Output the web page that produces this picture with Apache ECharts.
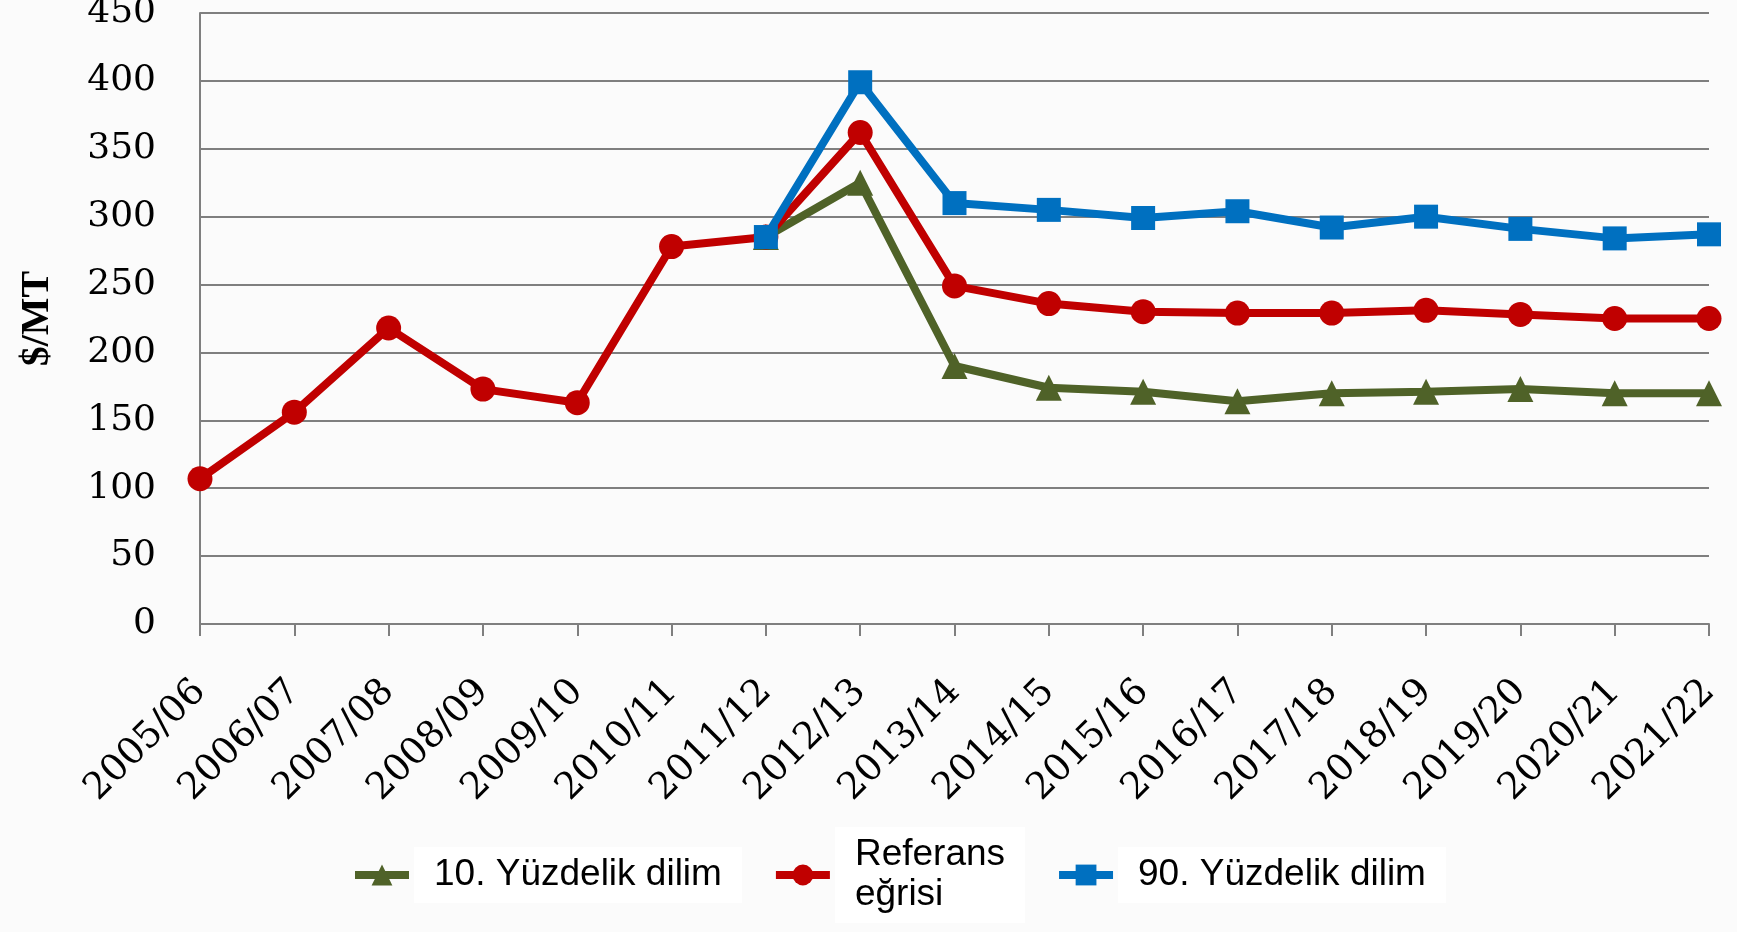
<!DOCTYPE html>
<html>
<head>
<meta charset="utf-8">
<script src="https://cdn.jsdelivr.net/npm/echarts@6/dist/echarts.min.js"></script>
<style>
  html, body { margin: 0; padding: 0; background: #fbfbfb; }
  #chart { width: 1737px; height: 932px; }
</style>
</head>
<body>
<div id="chart"></div>
<script>
// marketing years
const _YEARS = ['2005/06', '2006/07', '2007/08', '2008/09', '2009/10', '2010/11', '2011/12', '2012/13',
  '2013/14', '2014/15', '2015/16', '2016/17', '2017/18', '2018/19', '2019/20', '2020/21', '2021/22'];

// $/MT
const _P10 = [null, null, null, null, null, null, 285, 325, 190, 174, 171, 164, 170, 171, 173, 170, 170];
const _REF = [107, 156, 218, 173, 163, 278, 285, 362, 249, 236, 230, 229, 229, 231, 228, 225, 225];
const _P90 = [null, null, null, null, null, null, 285, 399, 310, 305, 299, 304, 292, 300, 291, 284, 287];

var myChart = echarts.init(document.getElementById('chart'));

const serif = '"DejaVu Serif", "Liberation Serif", serif';

myChart.setOption({
  backgroundColor: '#fbfbfb',
  animation: false,
  grid: {
    left: 200,
    top: 13,
    right: 28,
    bottom: 308,
    outerBoundsMode: 'none'
  },
  legend: {
    bottom: 4,
    left: 346,
    itemGap: 30,
    itemWidth: 54,
    itemHeight: 26,
    lineStyle: { width: 8 },
    textStyle: {
      fontFamily: '"Liberation Sans", Arial, sans-serif',
      fontSize: 37,
      color: '#000',
      backgroundColor: '#fff',
      padding: [8, 20, 8, 20],
      lineHeight: 40
    },
    formatter: function (name) {
      return name === 'Referans eğrisi' ? 'Referans\neğrisi' : name;
    },
    data: ['10. Yüzdelik dilim', 'Referans eğrisi', '90. Yüzdelik dilim']
  },
  xAxis: {
    type: 'category',
    boundaryGap: false,
    data: _YEARS,
    axisLine: { lineStyle: { color: '#7f7f7f', width: 2 } },
    axisTick: { show: true, length: 12, lineStyle: { color: '#7f7f7f', width: 2 } },
    axisLabel: {
      rotate: 45,
      interval: 0,
      margin: 62,
      fontFamily: serif,
      fontSize: 37,
      color: '#000'
    }
  },
  yAxis: {
    type: 'value',
    min: 0,
    max: 450,
    interval: 50,
    name: '$/MT',
    nameLocation: 'middle',
    nameGap: 142,
    nameTextStyle: {
      fontFamily: '"Liberation Serif", serif',
      fontSize: 40,
      fontWeight: 'bold',
      color: '#000'
    },
    axisLine: { show: true, lineStyle: { color: '#7f7f7f', width: 2 } },
    axisTick: { show: false },
    splitLine: { lineStyle: { color: '#7f7f7f', width: 2 } },
    axisLabel: {
      margin: 44,
      fontFamily: serif,
      fontSize: 36,
      color: '#000'
    }
  },
  series: [
    {
      name: '10. Yüzdelik dilim',
      type: 'line',
      data: _P10,
      color: '#4f6228',
      symbol: 'triangle',
      symbolSize: 26,
      lineStyle: { width: 8 },
      z: 3
    },
    {
      name: 'Referans eğrisi',
      type: 'line',
      data: _REF,
      color: '#c00000',
      symbol: 'circle',
      symbolSize: 25,
      lineStyle: { width: 8 },
      z: 4
    },
    {
      name: '90. Yüzdelik dilim',
      type: 'line',
      data: _P90,
      color: '#0070c0',
      symbol: 'rect',
      symbolSize: 24,
      lineStyle: { width: 8 },
      z: 5
    }
  ]
});
</script>
</body>
</html>
